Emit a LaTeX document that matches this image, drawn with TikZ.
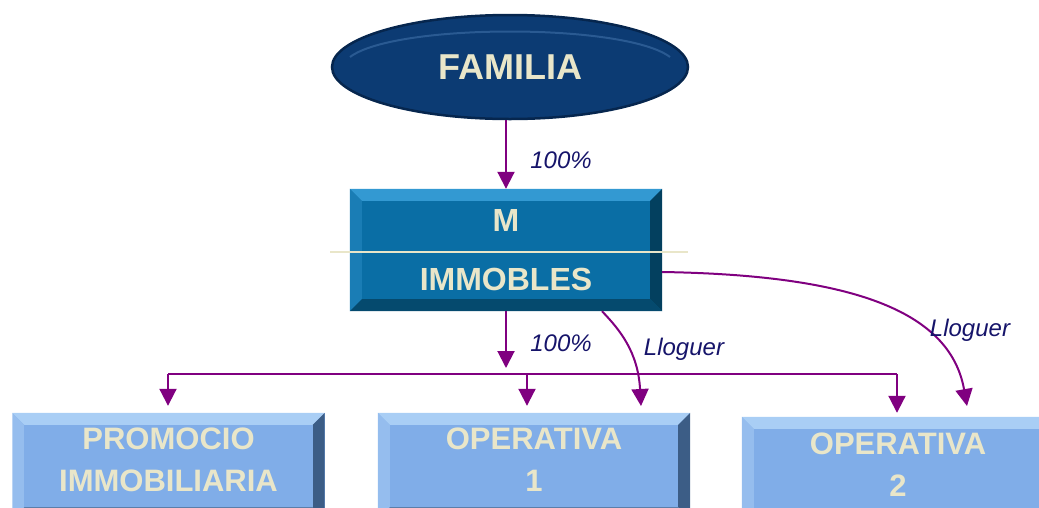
\documentclass[tikz,border=0pt]{standalone}
\usepackage{fontspec}
\setmainfont{Liberation Sans}
\usetikzlibrary{arrows.meta,calc,shapes.geometric}
\definecolor{famfill}{HTML}{0C3B73}
\definecolor{famedge}{HTML}{06264E}
\definecolor{famhi}{HTML}{2A5A92}
\definecolor{mfill}{HTML}{0A6EA5}
\definecolor{mtop}{HTML}{3399D2}
\definecolor{mleft}{HTML}{1A7DB5}
\definecolor{mright}{HTML}{03405F}
\definecolor{mbot}{HTML}{054A6E}
\definecolor{bfill}{HTML}{80ADE8}
\definecolor{btop}{HTML}{A9CEF5}
\definecolor{bleft}{HTML}{95BDEE}
\definecolor{bright}{HTML}{3C5D86}
\definecolor{bbot}{HTML}{5B7EAA}
\definecolor{cream}{HTML}{E9E6C9}
\definecolor{purp}{HTML}{800080}
\definecolor{lbl}{HTML}{16146A}
\newcommand{\bevelbox}[6]{% node, inset, top, left, right, bottom
  \fill[#3] (#1.north west) -- (#1.north east) -- ($(#1.north east)+(-#2,#2)$) -- ($(#1.north west)+(#2,#2)$) -- cycle;
  \fill[#4] (#1.north west) -- ($(#1.north west)+(#2,#2)$) -- ($(#1.south west)+(#2,-#2)$) -- (#1.south west) -- cycle;
  \fill[#5] (#1.north east) -- ($(#1.north east)+(-#2,#2)$) -- ($(#1.south east)+(-#2,-#2)$) -- (#1.south east) -- cycle;
  \fill[#6] (#1.south west) -- ($(#1.south west)+(#2,-#2)$) -- ($(#1.south east)+(-#2,-#2)$) -- (#1.south east) -- cycle;
}
\begin{document}
\begin{tikzpicture}[x=1pt,y=-1pt,
  mboxst/.style={rectangle, fill=mfill, minimum width=312pt, minimum height=122pt, inner sep=0pt},
  lowbox/.style={rectangle, fill=bfill, minimum width=312pt, minimum height=106pt, inner sep=0pt},
  bigtxt/.style={text=cream, font=\bfseries\fontsize{32}{36}\selectfont, inner sep=0pt},
  lowtxt/.style={text=cream, font=\bfseries\fontsize{31}{34}\selectfont, inner sep=0pt},
  lbltxt/.style={text=lbl, font=\itshape\fontsize{24}{28}\selectfont, inner sep=0pt},
  conn/.style={draw=purp, line width=2pt},
  arr/.style={conn, -{Triangle[width=17pt,length=17pt]}}
]
\useasboundingbox (0,0) rectangle (1039,507);
\clip (0,0) rectangle (1039,507);

% FAMILIA ellipse
\node[ellipse, fill=famfill, draw=famedge, line width=2.5pt, minimum width=356pt, minimum height=104pt, inner sep=0pt] (fam) at (510,67) {};
\draw[famhi, line width=2pt] ($(fam.center)+(-160,-10)$) .. controls ($(fam.center)+(-115,-44)$) and ($(fam.center)+(115,-44)$) .. ($(fam.center)+(160,-10)$);
\node[text=cream, font=\bfseries\fontsize{36}{40}\selectfont, inner sep=0pt] (famtxt) at (510,67) {FAMILIA};

% M IMMOBLES box
\node[mboxst] (mbox) at (506,250) {};
\bevelbox{mbox}{12}{mtop}{mleft}{mright}{mbot}
\fill[mfill] ($(mbox.north west)+(12,12)$) rectangle ($(mbox.south east)+(-12,-12)$);
\draw[cream, line width=2pt] (330,252) coordinate (dl) -- (688,252) coordinate (dr);
\node[bigtxt] (mtxt) at (506,220) {M};
\node[bigtxt] (immtxt) at (506,279) {IMMOBLES};

% lower boxes
\node[lowbox] (prom) at (168.5,466) {};
\bevelbox{prom}{12}{btop}{bleft}{bright}{bbot}
\fill[bfill] ($(prom.north west)+(12,12)$) rectangle ($(prom.south east)+(-12,-12)$);
\node[lowtxt] (promtxt1) at (168.5,439) {PROMOCIO};
\node[lowtxt] (promtxt2) at (168.5,481) {IMMOBILIARIA};

\node[lowbox] (op1) at (534,466) {};
\bevelbox{op1}{12}{btop}{bleft}{bright}{bbot}
\fill[bfill] ($(op1.north west)+(12,12)$) rectangle ($(op1.south east)+(-12,-12)$);
\node[lowtxt] (op1txt1) at (534,439) {OPERATIVA};
\node[lowtxt] (op1txt2) at (534,481) {1};

\node[lowbox] (op2) at (898,470) {};
\bevelbox{op2}{12}{btop}{bleft}{bright}{bbot}
\fill[bfill] ($(op2.north west)+(12,12)$) rectangle ($(op2.south east)+(-12,-12)$);
\node[lowtxt] (op2txt1) at (898,444) {OPERATIVA};
\node[lowtxt] (op2txt2) at (898,486) {2};

% connectors
\draw[arr] (mbox.north |- fam.south) -- (mbox.north);
\node[lbltxt] (l100a) at (561,160) {100\%};

\coordinate (h1) at (168,374);
\coordinate (h2) at (527,374);
\coordinate (h3) at (897,374);
\draw[arr, shorten >=6pt] (mbox.south) -- (mbox.south |- h1);
\draw[conn] (h1) -- (h3);
\draw[arr, shorten >=7pt] (h1) -- (h1 |- prom.north);
\draw[arr, shorten >=7pt] (h2) -- (h2 |- op1.north);
\draw[arr, shorten >=4pt] (h3) -- (h3 |- op2.north);
\node[lbltxt] (l100b) at (561,343) {100\%};

\coordinate (c1s) at ($(mbox.south)+(96,0)$);
\coordinate (c1e) at (641,406);
\draw[arr] (c1s) .. controls (620,330) and (638,352) .. (c1e);
\node[lbltxt] (llog1) at (684,349) {Lloguer};

\coordinate (c2s) at ($(mbox.east)+(0,22)$);
\coordinate (c2e) at (967,406);
\draw[arr] (c2s) .. controls (850,275) and (950,310) .. (c2e);
\node[lbltxt] (llog2) at (970,330) {Lloguer};
\end{tikzpicture}
\end{document}
